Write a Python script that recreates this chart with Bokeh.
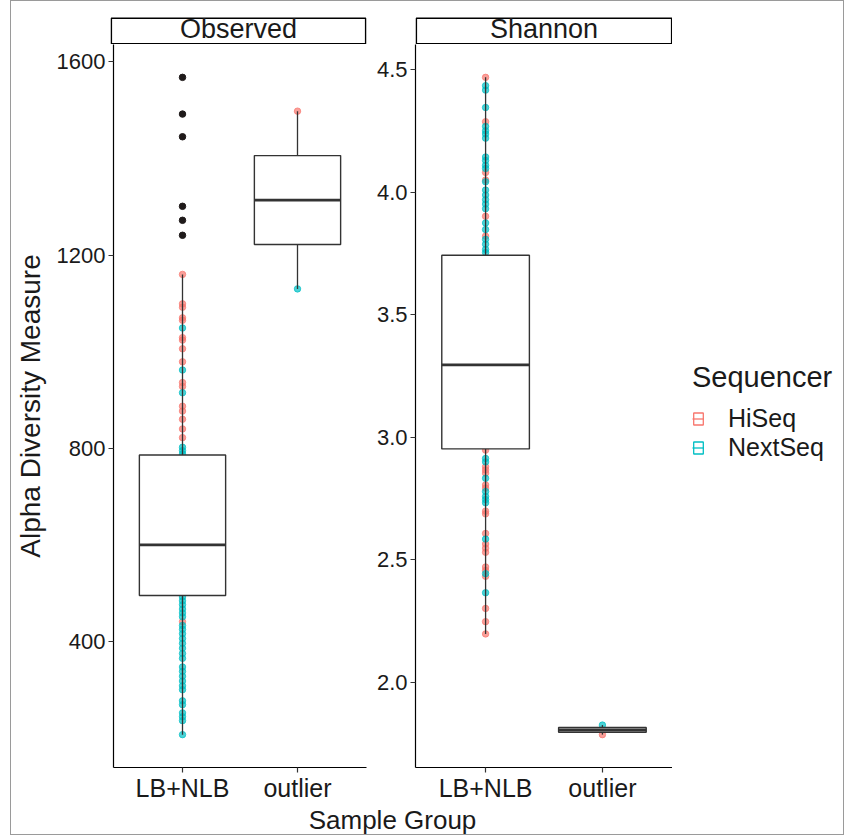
from bokeh.plotting import figure
from bokeh.models import (ColumnDataSource, FactorRange, Range1d, FixedTicker,
                          NumeralTickFormatter, BoxAnnotation, Label, Legend, LegendItem,
                          Spacer)
from bokeh.layouts import row, column
from bokeh.transform import dodge
from bokeh.embed import file_html
from bokeh.resources import INLINE

FONT = "Liberation Sans"
HISEQ_COLOR = "#F8766D"
NEXTSEQ_COLOR = "#00BFC4"
BOX_LINE = "#333333"
TEXT = "#1a1a1a"
NAN = float("nan")

# ---------------- data ----------------
groups = ["LB+NLB", "outlier"]
sequencers = ["HiSeq", "NextSeq"]

obs_hiseq_lbnlb = [1160, 1099, 1092, 1070, 1065, 1029, 1024, 1006, 979, 936, 928,
                   887, 877, 860, 840, 822, 441]
obs_nextseq_lbnlb = [1049, 962, 915, 802, 795, 788, 492, 484, 476, 467, 459, 451, 433,
                     425, 416, 406, 396, 386, 375, 365, 347, 338, 328, 318, 308, 300,
                     277, 269, 252, 244, 236, 207]
obs_hiseq_outlier = [1498]
obs_nextseq_outlier = [1130]
obs_box_q1 = [495, 1222]
obs_box_median = [600, 1314]
obs_box_q3 = [786, 1406]
obs_whisker_low = [207, 1130]
obs_whisker_high = [1160, 1498]
obs_outliers_lbnlb = [1568, 1492, 1445, 1301, 1272, 1241]
obs_ticks = [400, 800, 1200, 1600]

sha_hiseq_lbnlb = [4.469, 4.288, 4.081, 4.050, 3.902, 3.821, 2.948, 2.880, 2.867, 2.854,
                   2.806, 2.793, 2.699, 2.688, 2.608, 2.565, 2.548, 2.531, 2.471, 2.457,
                   2.433, 2.302, 2.248, 2.198]
sha_nextseq_lbnlb = [4.435, 4.417, 4.346, 4.269, 4.251, 4.238, 4.221, 4.144, 4.130, 4.110,
                     4.097, 4.043, 4.009, 3.989, 3.970, 3.952, 3.933, 3.875, 3.848, 3.808,
                     3.788, 3.767, 3.754, 2.914, 2.900, 2.833, 2.779, 2.759, 2.746, 2.733,
                     2.585, 2.444, 2.366]
sha_hiseq_outlier = [1.787]
sha_nextseq_outlier = [1.826]
sha_box_q1 = [2.953, 1.797]
sha_box_median = [3.296, 1.806]
sha_box_q3 = [3.743, 1.816]
sha_whisker_low = [2.198, 1.787]
sha_whisker_high = [4.469, 1.826]
sha_outliers_lbnlb = []
sha_ticks = [2.0, 2.5, 3.0, 3.5, 4.0, 4.5]

# ---------------- layout constants ----------------
STRIP_TOP = 11      # border above the strip figure's frame
STRIP_FRAME = 32    # strip frame (room for the label's text box)
STRIP_H = 27        # visible strip box height
PANEL_H = 726
BOTTOM = 34
FIG_H = PANEL_H + BOTTOM
LEG_W = 171
P1 = dict(frame_w=256, border_l=99, border_r=1)
P2 = dict(frame_w=257, border_l=48, border_r=0)


def style_axes(p, ylabel=None):
    for ax in (p.xaxis[0], p.yaxis[0]):
        ax.axis_line_color = "black"
        ax.axis_line_width = 1.2
        ax.major_tick_line_color = BOX_LINE
        ax.major_tick_line_width = 1.2
        ax.major_tick_in = 0
        ax.major_tick_out = 5
        ax.minor_tick_line_color = None
        ax.major_label_text_font = FONT
        ax.major_label_text_color = TEXT
    p.xaxis[0].major_label_text_font_size = "25px"
    p.xaxis[0].major_label_standoff = 1
    p.yaxis[0].major_label_text_font_size = "22px"
    p.yaxis[0].major_label_standoff = 3
    if ylabel:
        p.yaxis[0].axis_label = ylabel
        p.yaxis[0].axis_label_text_font = FONT
        p.yaxis[0].axis_label_text_font_size = "28px"
        p.yaxis[0].axis_label_text_font_style = "normal"
        p.yaxis[0].axis_label_text_color = TEXT
        p.yaxis[0].axis_label_standoff = 8


def make_strip(title, frame_w, border_l, border_r):
    s = figure(width=border_l + frame_w + border_r, height=STRIP_TOP + STRIP_FRAME,
               x_range=Range1d(0, 1), y_range=Range1d(0, 1),
               min_border_left=border_l, min_border_right=border_r,
               min_border_top=STRIP_TOP, min_border_bottom=0,
               x_axis_type=None, y_axis_type=None, toolbar_location=None,
               output_backend="svg", outline_line_color=None,
               background_fill_color="white", border_fill_color="white")
    s.xgrid.visible = False
    s.ygrid.visible = False
    s.add_layout(BoxAnnotation(left=0.8, right=frame_w - 0.8, bottom=0.8,
                               top=STRIP_H - 0.8,
                               left_units="screen", right_units="screen",
                               bottom_units="screen", top_units="screen",
                               fill_color="white", fill_alpha=1.0,
                               line_color="black", line_width=1.6, line_alpha=1.0))
    s.add_layout(Label(x=0.5, y=15.2, y_units="screen", text=title, text_align="center",
                       text_baseline="middle", text_font=FONT, text_font_size="27px",
                       text_color=TEXT))
    return s


def make_panel(hiseq, nextseq, q1, med, q3, lo, hi, outliers, ticks, fmt,
               frame_w, border_l, border_r, ylabel=None):
    allv = [v for lst in hiseq + nextseq for v in lst] + list(outliers)
    vmin, vmax = min(allv), max(allv)
    pad = (vmax - vmin) * 0.05
    p = figure(x_range=FactorRange(factors=groups, range_padding=0.1),
               y_range=Range1d(vmin - pad, vmax + pad),
               width=border_l + frame_w + border_r, height=FIG_H,
               min_border_left=border_l, min_border_right=border_r,
               min_border_top=0, min_border_bottom=BOTTOM,
               toolbar_location=None, output_backend="svg",
               background_fill_color="white", border_fill_color="white",
               outline_line_color=None)
    p.xgrid.visible = False
    p.ygrid.visible = False
    p.yaxis.ticker = FixedTicker(ticks=ticks)
    p.yaxis.formatter = NumeralTickFormatter(format=fmt)
    style_axes(p, ylabel)

    for vals, color in ((hiseq, HISEQ_COLOR), (nextseq, NEXTSEQ_COLOR)):
        xs, ys = [], []
        for g, lst in zip(groups, vals):
            xs += [g] * len(lst)
            ys += lst
        p.scatter(x=xs, y=ys, size=6.5, fill_color=color, line_color=color,
                  fill_alpha=0.7, line_alpha=0.7)

    src = ColumnDataSource(dict(g=groups, q1=q1, med=med, q3=q3, lo=lo, hi=hi))
    p.segment(x0="g", y0="q3", x1="g", y1="hi", source=src,
              line_color=BOX_LINE, line_width=1.3)
    p.segment(x0="g", y0="lo", x1="g", y1="q1", source=src,
              line_color=BOX_LINE, line_width=1.3)
    p.vbar(x="g", width=0.75, bottom="q1", top="q3", source=src,
           fill_color="white", line_color=BOX_LINE, line_width=1.4)
    p.segment(x0=dodge("g", -0.375, range=p.x_range), y0="med",
              x1=dodge("g", 0.375, range=p.x_range), y1="med", source=src,
              line_color=BOX_LINE, line_width=2.8)
    if outliers:
        p.scatter(x=[groups[0]] * len(outliers), y=outliers, size=6.5,
                  fill_color="#1f1a1a", line_color="#1f1a1a")
    return p


s1 = make_strip("Observed", **P1)
s2 = make_strip("Shannon", **P2)

f1 = make_panel([obs_hiseq_lbnlb, obs_hiseq_outlier],
                [obs_nextseq_lbnlb, obs_nextseq_outlier],
                obs_box_q1, obs_box_median, obs_box_q3, obs_whisker_low, obs_whisker_high,
                obs_outliers_lbnlb, obs_ticks, "0", ylabel="Alpha Diversity Measure", **P1)
f2 = make_panel([sha_hiseq_lbnlb, sha_hiseq_outlier],
                [sha_nextseq_lbnlb, sha_nextseq_outlier],
                sha_box_q1, sha_box_median, sha_box_q3, sha_whisker_low, sha_whisker_high,
                sha_outliers_lbnlb, sha_ticks, "0.0", **P2)

# legend panel
fl = figure(width=LEG_W, height=FIG_H, toolbar_location=None, output_backend="svg",
            x_range=Range1d(0, 1), y_range=Range1d(0, 1),
            min_border_left=0, min_border_right=0, min_border_top=0, min_border_bottom=0,
            x_axis_type=None, y_axis_type=None, outline_line_color=None,
            background_fill_color="white", border_fill_color="white")
fl.xgrid.visible = False
fl.ygrid.visible = False
items = []
for name, color in zip(sequencers, (HISEQ_COLOR, NEXTSEQ_COLOR)):
    rq = fl.quad(left=[NAN], right=[NAN], top=[NAN], bottom=[NAN], fill_color="white",
                 line_color=color, line_width=1.3)
    rs = fl.segment(x0=[NAN], y0=[NAN], x1=[NAN], y1=[NAN], line_color=color,
                    line_width=1.3)
    items.append(LegendItem(label=name, renderers=[rq, rs]))

legend = Legend(items=items, title="Sequencer", location=(20, 305),
                title_text_font=FONT, title_text_font_size="29px",
                title_text_font_style="normal", title_text_color=TEXT, title_standoff=10,
                label_text_font=FONT, label_text_font_size="25px", label_text_color=TEXT,
                glyph_width=12, glyph_height=15, label_standoff=24, spacing=0,
                padding=8, margin=0, border_line_color=None,
                background_fill_color="white", background_fill_alpha=1.0)
fl.add_layout(legend)

# shared x-axis title
TOTAL_W = P1["border_l"] + P1["frame_w"] + P1["border_r"] + \
    P2["border_l"] + P2["frame_w"] + P2["border_r"] + LEG_W
f3 = figure(width=TOTAL_W, height=30, toolbar_location=None, output_backend="svg",
            x_range=Range1d(0, 1), y_range=Range1d(0, 1),
            min_border_left=0, min_border_right=0, min_border_top=0, min_border_bottom=0,
            x_axis_type=None, y_axis_type=None, outline_line_color=None,
            background_fill_color="white", border_fill_color="white")
f3.xgrid.visible = False
f3.ygrid.visible = False
f3.add_layout(Label(x=381, y=0.5, x_units="screen", text="Sample Group",
                    text_align="center", text_baseline="middle", text_font=FONT,
                    text_font_size="26px", text_color=TEXT))

layout = column(row(s1, s2, Spacer(width=LEG_W, height=STRIP_TOP + STRIP_FRAME)),
                row(f1, f2, fl), f3,
                styles={"border": "1px solid #9a9a9a", "margin-left": "10px"})

open("out.html", "w").write(file_html(layout, INLINE))
